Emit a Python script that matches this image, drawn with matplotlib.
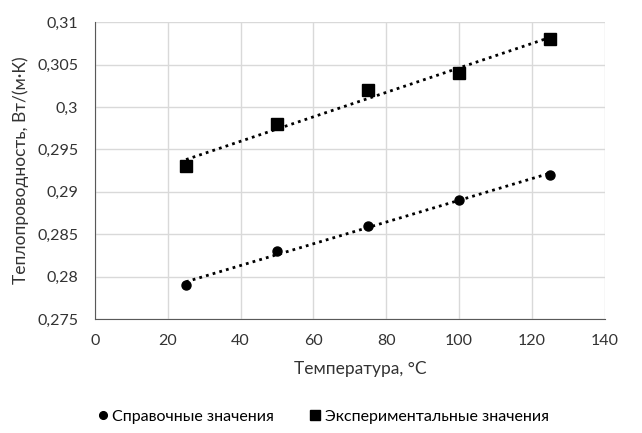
import numpy as np
from matplotlib import pyplot as plt

plt.rcParams["font.family"] = ["Lato", "DejaVu Sans"]

temps = [25, 50, 75, 100, 125]
ref_vals = [0.279, 0.283, 0.286, 0.289, 0.292]
exp_vals = [0.293, 0.298, 0.302, 0.304, 0.308]

x_ticks = [0, 20, 40, 60, 80, 100, 120, 140]
y_ticks = [0.275, 0.28, 0.285, 0.29, 0.295, 0.3, 0.305, 0.31]
y_labels = ["0,275", "0,28", "0,285", "0,29", "0,295", "0,3", "0,305", "0,31"]

fig = plt.figure(figsize=(6.42, 4.33), dpi=100)
ax = fig.add_axes([0.148, 0.263, 0.794, 0.686])

ax.grid(which="major", color="#D9D9D9", linewidth=1.0)
ax.set_axisbelow(True)
for side in ["top", "right"]:
    ax.spines[side].set_visible(False)
ax.spines["left"].set_color("#595959")
ax.spines["bottom"].set_color("#595959")

ax.plot(temps, ref_vals, "o", color="black", markersize=6.5, zorder=3,
        label="Справочные значения")
ax.plot(temps, exp_vals, "s", color="black", markersize=8, zorder=3,
        label="Экспериментальные значения")

# linear trend lines
xs = np.array([temps[0], temps[-1]])
for vals in [ref_vals, exp_vals]:
    k, b = np.polyfit(temps, vals, 1)
    ax.plot(xs, k * xs + b, color="black", linestyle=(0, (1, 1.5)), linewidth=2, zorder=2)

ax.set_xlim(0, 140)
ax.set_ylim(0.275, 0.31)
ax.set_xticks(x_ticks)
ax.set_yticks(y_ticks)
ax.set_yticklabels(y_labels)
ax.tick_params(length=0, labelsize=11.5, colors="#333333")
ax.tick_params(axis="y", pad=12)
ax.tick_params(axis="x", pad=11)

ax.set_xlabel("Температура, °C", fontsize=12.5, color="#333333", labelpad=9)
ax.xaxis.label.set_x(0.52)
ax.set_ylabel("Теплопроводность, Вт/(м·К)", fontsize=12.5, color="#333333", labelpad=6)

fig.legend(loc="lower center", bbox_to_anchor=(0.5, -0.012), ncol=2, frameon=False,
           fontsize=11.5, handletextpad=0.0, handlelength=1.2, columnspacing=2.0,
           markerscale=0.85)

fig.savefig("out.png", dpi=100)
